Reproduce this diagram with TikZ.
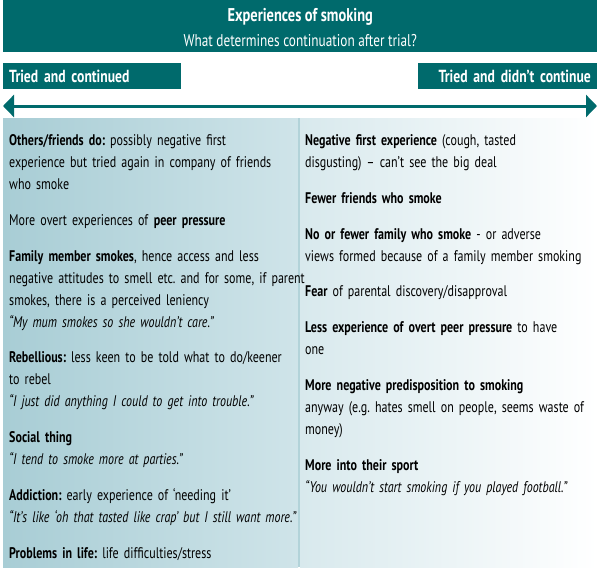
\documentclass[tikz,border=0pt]{standalone}
\usepackage{fontspec}
\setmainfont{PT Sans}[FakeStretch=0.78]
\usepackage{tikz}
\usetikzlibrary{arrows.meta,positioning}
\usepackage{xcolor}
\frenchspacing
\hyphenpenalty=10000

\definecolor{smoketeal}{RGB}{0,106,108}
\definecolor{contleft}{RGB}{168,205,213}
\definecolor{contright}{RGB}{207,228,233}
\definecolor{stopleft}{RGB}{216,233,237}
\definecolor{splitline}{RGB}{178,211,217}

\begin{document}
\begin{tikzpicture}[x=1pt, y=1pt,
  banner/.style={fill=smoketeal, inner sep=0pt},
  tag/.style={fill=smoketeal, text=white, inner xsep=6pt, inner ysep=0pt,
    minimum height=26pt, font=\fontsize{17.5}{18}\selectfont\bfseries},
  item/.style={inner sep=0pt, text width=380pt, align=left,
    font=\fontsize{15.4}{22}\selectfont,
    execute at begin node=\strut, execute at end node=\strut},
  gap/.style={below right=13.5pt and 0pt of #1.south west}]
\useasboundingbox (0,0) rectangle (600,-571);

% panels
\shade[left color=contleft, right color=contright] (3,-118) rectangle (298,-567);
\shade[left color=stopleft, right color=white] (300,-118) rectangle (597,-567);
\fill[splitline] (298,-118) rectangle (300,-567);

% heading
\node (banner) [banner, anchor=north west, minimum width=594pt,
  minimum height=52pt] at (3,0) {};
\node (title) [anchor=base, text=white, font=\fontsize{18.5}{18}\selectfont\bfseries]
  at ([yshift=-21pt]banner.north) {Experiences of smoking};
\node (question) [anchor=base, text=white, font=\fontsize{17}{18}\selectfont]
  at ([yshift=-46pt]banner.north) {What determines continuation after trial?};

\node (cont) [tag, anchor=north west, text width=166pt, align=left]
  at (3,-63) {Tried and continued};
\node (stop) [tag, anchor=north east, text width=167pt, align=right]
  at (597,-63) {Tried and didn’t continue};

\coordinate (lend) at (3,-106);
\coordinate (rend) at (597,-106);
\draw[{Triangle[width=22pt,length=11pt]}-{Triangle[width=22pt,length=11pt]},
  line width=3pt, smoketeal] (lend) -- (rend);

% tried and continued
\node (others) [item, anchor=north west] at (9,-129.6)
  {\textbf{Others/friends do:} possibly negative first\\
   experience but tried again in company of friends\\
   who smoke};
\node (peer) [item, gap=others]
  {More overt experiences of \textbf{peer pressure}};
\node (family) [item, gap=peer]
  {\textbf{Family member smokes}, hence access and less\\
   negative attitudes to smell etc. and for some, if parent\\
   smokes, there is a perceived leniency\\
   \textit{“My mum smokes so she wouldn’t care.”}};
\node (rebel) [item, gap=family]
  {\textbf{Rebellious:} less keen to be told what to do/keener\\
   to rebel\\
   \textit{“I just did anything I could to get into trouble.”}};
\node (social) [item, gap=rebel]
  {\textbf{Social thing}\\
   \textit{“I tend to smoke more at parties.”}};
\node (addict) [item, gap=social]
  {\textbf{Addiction:} early experience of ‘needing it’\\
   \textit{“It’s like ‘oh that tasted like crap’ but I still want more.”}};
\node (problems) [item, gap=addict]
  {\textbf{Problems in life:} life difficulties/stress};

% tried and didn't continue
\node (negative) [item, anchor=north west] at (305,-129.6)
  {\textbf{Negative first experience} (cough, tasted\\
   disgusting) – can’t see the big deal};
\node (fewer) [item, gap=negative]
  {\textbf{Fewer friends who smoke}};
\node (nofamily) [item, gap=fewer]
  {\textbf{No or fewer family who smoke} - or adverse\\
   views formed because of a family member smoking};
\node (fear) [item, gap=nofamily]
  {\textbf{Fear} of parental discovery/disapproval};
\node (lesspeer) [item, gap=fear]
  {\textbf{Less experience of overt peer pressure} to have\\
   one};
\node (predisp) [item, gap=lesspeer]
  {\textbf{More negative predisposition to smoking}\\
   anyway (e.g. hates smell on people, seems waste of\\
   money)};
\node (sport) [item, gap=predisp]
  {\textbf{More into their sport}\\
   \textit{“You wouldn’t start smoking if you played football.”}};
\end{tikzpicture}
\end{document}
